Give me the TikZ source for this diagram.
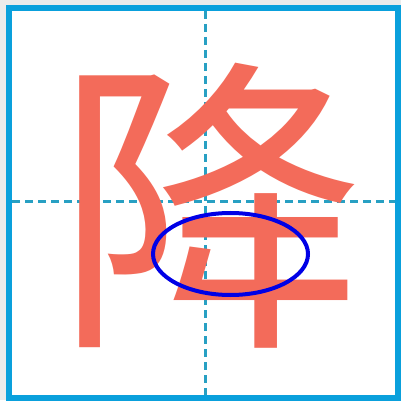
\documentclass[tikz,border=0pt]{standalone}
\usepackage{fontspec}
\newfontfamily\cjk{Noto Sans CJK SC}
\definecolor{framecyan}{RGB}{10,160,220}
\definecolor{guidecyan}{RGB}{40,160,195}
\definecolor{inkred}{RGB}{243,107,90}
\definecolor{ringblue}{RGB}{0,0,230}
\definecolor{pagegray}{RGB}{235,235,235}
\begin{document}
\begin{tikzpicture}[x=1pt,y=-1pt]
\fill[pagegray] (0,0) rectangle (401,400);
\fill[white] (9,8) rectangle (398,397.5);
% guide lines
\draw[guidecyan, line width=3pt, dash pattern=on 8pt off 5pt] (205,11) -- (205,395);
\draw[guidecyan, line width=3pt, dash pattern=on 8pt off 5pt] (12,202) -- (395,202);
\node[inkred, font=\cjk\fontsize{310}{310}\selectfont, inner sep=0pt] (hanzi) at (210,206) {降};
\draw[framecyan, line width=6pt] (9,8) rectangle (398,397.5);
\draw[ringblue, line width=4pt] (230.5,254) ellipse (77.5 and 41);
\end{tikzpicture}
\end{document}
